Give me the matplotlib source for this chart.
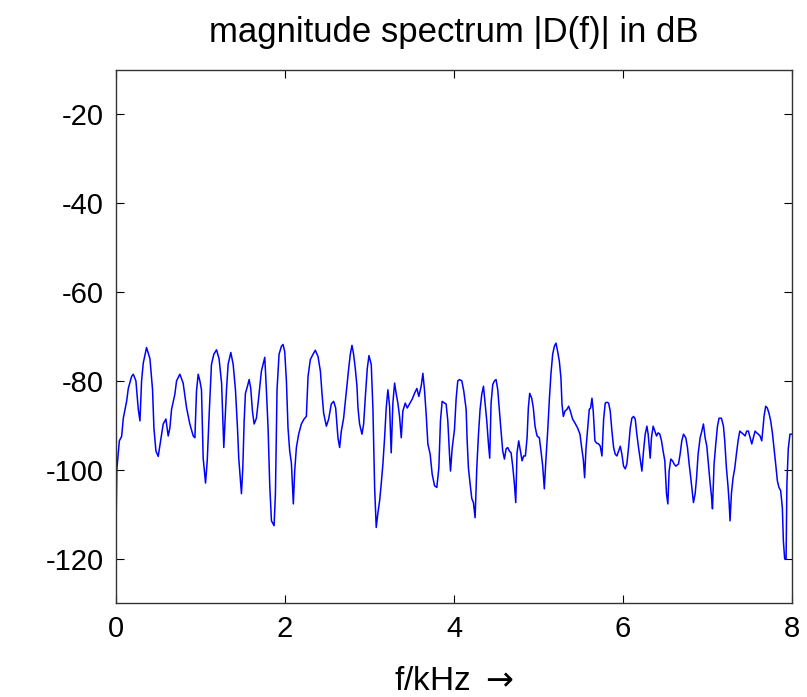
import matplotlib
matplotlib.use("Agg")
from matplotlib import pyplot as plt
import numpy as np

plt.rcParams['font.family'] = ['Liberation Sans', 'DejaVu Sans']

# frequency in kHz and magnitude in dB
f_khz = [0.0, 0.01, 0.04, 0.067, 0.087, 0.126, 0.146, 0.185, 0.205, 0.236, 0.264, 0.284,
         0.303, 0.323, 0.362, 0.402, 0.433, 0.449, 0.473, 0.5, 0.528, 0.559, 0.591, 0.618,
         0.638, 0.658, 0.697, 0.717, 0.756, 0.795, 0.835, 0.874, 0.914, 0.934, 0.953, 0.973,
         0.993, 1.012, 1.032, 1.06, 1.08, 1.103, 1.13, 1.158, 1.19, 1.22, 1.25, 1.276,
         1.308, 1.327, 1.359, 1.387, 1.414, 1.438, 1.453, 1.473, 1.485, 1.501, 1.517, 1.532,
         1.556, 1.576, 1.595, 1.615, 1.635, 1.662, 1.682, 1.702, 1.721, 1.741, 1.761, 1.78,
         1.8, 1.82, 1.84, 1.871, 1.887, 1.906, 1.93, 1.958, 1.977, 1.997, 2.017, 2.036,
         2.056, 2.076, 2.099, 2.115, 2.135, 2.162, 2.194, 2.225, 2.253, 2.273, 2.3, 2.332,
         2.359, 2.391, 2.419, 2.438, 2.458, 2.49, 2.517, 2.548, 2.576, 2.6, 2.627, 2.647,
         2.667, 2.694, 2.714, 2.734, 2.753, 2.773, 2.793, 2.812, 2.832, 2.852, 2.864, 2.883,
         2.911, 2.931, 2.95, 2.974, 2.994, 3.021, 3.041, 3.061, 3.08, 3.1, 3.12, 3.139,
         3.159, 3.179, 3.198, 3.218, 3.238, 3.257, 3.277, 3.297, 3.317, 3.336, 3.356, 3.376,
         3.395, 3.423, 3.447, 3.474, 3.506, 3.533, 3.561, 3.584, 3.612, 3.632, 3.651, 3.671,
         3.691, 3.718, 3.742, 3.77, 3.797, 3.821, 3.84, 3.86, 3.888, 3.907, 3.927, 3.947,
         3.959, 3.978, 4.006, 4.026, 4.045, 4.065, 4.093, 4.116, 4.144, 4.156, 4.171, 4.191,
         4.211, 4.23, 4.25, 4.27, 4.29, 4.309, 4.329, 4.349, 4.368, 4.388, 4.408, 4.423,
         4.439, 4.459, 4.479, 4.498, 4.518, 4.538, 4.557, 4.577, 4.597, 4.617, 4.636, 4.656,
         4.676, 4.695, 4.715, 4.731, 4.746, 4.766, 4.786, 4.806, 4.825, 4.845, 4.865, 4.88,
         4.896, 4.92, 4.939, 4.959, 4.983, 5.01, 5.03, 5.05, 5.069, 5.089, 5.109, 5.129,
         5.148, 5.168, 5.188, 5.207, 5.227, 5.247, 5.266, 5.278, 5.294, 5.314, 5.337, 5.357,
         5.377, 5.404, 5.432, 5.463, 5.491, 5.511, 5.53, 5.546, 5.562, 5.582, 5.601, 5.617,
         5.633, 5.648, 5.668, 5.688, 5.712, 5.731, 5.751, 5.771, 5.79, 5.81, 5.83, 5.849,
         5.869, 5.889, 5.908, 5.928, 5.948, 5.968, 5.987, 6.007, 6.027, 6.046, 6.066, 6.086,
         6.105, 6.125, 6.145, 6.164, 6.184, 6.204, 6.224, 6.243, 6.263, 6.283, 6.298, 6.322,
         6.337, 6.357, 6.377, 6.397, 6.416, 6.436, 6.456, 6.475, 6.495, 6.515, 6.531, 6.546,
         6.566, 6.586, 6.605, 6.625, 6.657, 6.676, 6.696, 6.716, 6.743, 6.763, 6.783, 6.802,
         6.822, 6.834, 6.854, 6.87, 6.889, 6.913, 6.933, 6.952, 6.972, 6.992, 7.011, 7.031,
         7.047, 7.059, 7.078, 7.098, 7.118, 7.137, 7.165, 7.189, 7.204, 7.224, 7.244, 7.256,
         7.267, 7.283, 7.303, 7.323, 7.342, 7.362, 7.382, 7.405, 7.425, 7.445, 7.464, 7.484,
         7.504, 7.524, 7.543, 7.563, 7.583, 7.602, 7.622, 7.642, 7.657, 7.669, 7.689, 7.708,
         7.728, 7.748, 7.768, 7.787, 7.807, 7.827, 7.846, 7.866, 7.886, 7.898, 7.913, 7.93,
         7.94, 7.956, 7.976, 8.0]
mag_db = [-114.5, -100, -93.5, -92.5, -88.4, -84.6, -81.7, -79, -78.5, -80, -86.4, -89,
          -80, -76, -72.5, -75, -82, -90.6, -95.8, -97, -93.5, -89.7, -88.6, -92.4,
          -90.6, -86.4, -83, -80, -78.5, -80.5, -86, -89.7, -92.4, -92.8, -82.3, -78.5,
          -80, -82, -97.4, -103, -98, -87.5, -76.3, -74, -73, -75, -80.5, -95,
          -82, -76.3, -73.6, -76.3, -82, -90.6, -97.4, -102.5, -105.4, -99.6, -89, -82.8,
          -81.2, -79.7, -81.7, -86.8, -89.7, -88.4, -85, -81.2, -77.8, -76.3, -74.7, -82,
          -90.6, -103.6, -111.5, -112.6, -105.4, -82, -74, -72.2, -71.8, -73.4, -80, -90.6,
          -95.8, -98.5, -107.7, -100.3, -95, -92, -89.7, -88.6, -88, -79, -75.2, -74,
          -73.1, -74.5, -77.8, -82.8, -87.3, -90.2, -88.6, -85.2, -84.6, -86.1, -92.8, -95,
          -91.3, -88.4, -84.6, -80.8, -77.4, -74, -72, -74, -77.2, -81.2, -86.1, -89.7,
          -92, -89.7, -83.9, -77.2, -74.3, -76.3, -86.4, -104, -113, -109.7, -107, -103.2,
          -98.7, -92.8, -86.1, -82, -85.7, -96.2, -85, -80.5, -83, -85, -88, -92.8,
          -86.8, -85, -86.1, -85.2, -84.1, -82.8, -81.7, -83.5, -81.2, -78.3, -82, -87.5,
          -94.2, -96.5, -101, -103.6, -104, -99.6, -89, -84.6, -85, -85.2, -89, -96.5,
          -100.3, -95.3, -90.9, -83.9, -80, -79.7, -80, -82.3, -86.4, -93.5, -99.6, -103.2,
          -106.5, -107.4, -110.8, -99.6, -92, -86.4, -83, -81.2, -85, -89, -94.2, -97.4,
          -85, -80.8, -80, -79.7, -82, -86.8, -91.3, -95.8, -97.6, -95.3, -95, -95.8,
          -96.2, -99.2, -103.2, -107.4, -96.2, -93.5, -95.8, -98, -96.9, -96.9, -92.8, -86.1,
          -82.8, -83.9, -86.1, -90.2, -92.4, -92.8, -95.8, -99.2, -104.3, -97.4, -91.3, -84.1,
          -78.3, -74, -72.2, -71.5, -73.4, -75.6, -79.4, -85.2, -88, -86.8, -86.4, -85.7,
          -86.8, -88.6, -89.5, -90.6, -92, -95, -97.6, -101.8, -95.3, -90.6, -86.4, -86.1,
          -83.9, -86.8, -93.5, -94, -94.2, -94.7, -96.9, -88.6, -85, -84.8, -85, -86.8,
          -91.3, -95, -96.5, -96.9, -95.8, -94.7, -96.5, -99.2, -99.8, -98.7, -95, -90.6,
          -88.4, -88, -88.6, -92, -95, -97.6, -100.3, -95.8, -92, -90.2, -92, -97.4,
          -92.8, -90.2, -91.3, -92.4, -91.7, -92, -93.5, -95.8, -98, -105.4, -107.7, -100.3,
          -97.6, -98, -98.7, -99.2, -98.7, -96.5, -93.5, -92, -92.8, -95, -98.7, -101.8,
          -105.4, -107.4, -105.4, -102, -96.5, -92.8, -91.3, -89.7, -92.8, -94.7, -98.7, -103,
          -105.9, -108.8, -98.7, -94.2, -90.2, -88.4, -88.4, -90.2, -93.5, -99.6, -104, -107.4,
          -111.5, -105.4, -101.8, -99.6, -96.5, -93.5, -91.3, -91.7, -92, -92.4, -91.3, -91.3,
          -92.8, -94.2, -92.8, -91.3, -91.7, -92, -92.4, -93.5, -90.6, -88, -85.7, -86.1,
          -87.3, -89, -91.7, -95, -98.7, -102.5, -104, -104.7, -108.6, -116, -120, -120,
          -103, -95.3, -92, -92]

xticks = [0, 2, 4, 6, 8]
yticks = [-120, -100, -80, -60, -40, -20]

fig = plt.figure(figsize=(8.07, 6.97), dpi=100)
ax = fig.add_axes([0.1437, 0.1349, 0.8377, 0.7647])
ax.plot(f_khz, mag_db, color='#0000ff', linewidth=1.1)

ax.set_xlim(0, 8)
ax.set_ylim(-130, -10)
ax.set_xticks(xticks)
ax.set_yticks(yticks)
ax.set_yticklabels([str(v) for v in yticks])
ax.tick_params(direction='in', length=6, width=0.8, top=True, right=True,
               labelsize=21, pad=9)
for sp in ax.spines.values():
    sp.set_linewidth(1.0)
    sp.set_color('#333333')

ax.set_title('magnitude spectrum |D(f)| in dB', fontsize=25, pad=20)
ax.set_xlabel(r'f/kHz $\rightarrow$', fontsize=24, labelpad=16)

fig.savefig('out.png', dpi=100)
